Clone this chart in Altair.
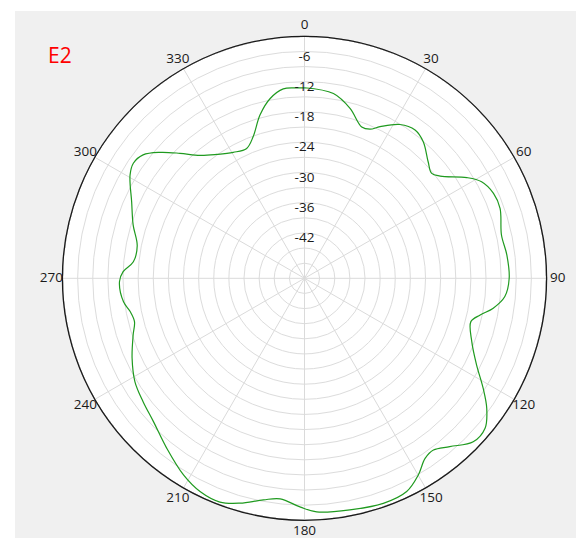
import math
import altair as alt
import pandas as pd

# ---- data ----
angles_deg = [0, 8.9, 15, 20.7, 23.7, 26.5, 31.8, 36.7, 41, 46.7, 50.5, 53, 58.2, 61.4, 65.8, 70.3,
              77.6, 83.4, 90, 95.2, 99, 101.8, 104.6, 110.8, 116.7, 121.6, 125.5, 129.7, 134.1,
              139.2, 143.1, 146.2, 150, 154.4, 160.7, 168.9, 177, 181, 186.3, 190.5, 196, 200.7,
              206.1, 211.6, 219, 226.5, 232.6, 238.6, 245.1, 251.7, 255.7, 259.2, 262.6, 269,
              272.1, 275.5, 281, 287.3, 293.9, 300.6, 303.9, 307.4, 311.1, 315.1, 319.6, 324.7,
              330.5, 336, 340.1, 344.8, 349.2, 353.6, 357.5, 360]
gain_db = [-10.2, -10.9, -13.1, -15.9, -15.7, -14.4, -12.1, -11.3, -12.1, -14.3, -15.3, -14.3,
           -10.1, -8.0, -6.9, -6.8, -8.0, -7.6, -7.4, -8.1, -10.1, -12.4, -13.9, -12.5, -9.8,
           -6.4, -3.6, -1.45, -1.4, -3.9, -5.4, -5.0, -2.9, -1.1, -0.7, -1.2, -1.6, -2.6, -4.0,
           -3.3, -1.6, -0.55, -0.9, -2.2, -4.6, -6.7, -7.7, -8.6, -10.3, -12.2, -13.2, -12.8,
           -11.8, -11.3, -12.0, -13.9, -14.2, -12.4, -10.5, -7.8, -7.1, -7.7, -10.0, -13.0,
           -16.0, -17.9, -19.3, -19.8, -18.1, -14.4, -11.7, -10.2, -10.2, -10.2]
assert len(angles_deg) == len(gain_db)

ring_values = list(range(-45, 0, 3))          # gridline rings every 3 dB
radial_labels = [-6, -12, -18, -24, -30, -36, -42]
spoke_angles = list(range(0, 360, 30))
R_MIN, R_MAX = -48, 0
title_text = "E2"

# ---- layout ----
W, H = 568, 530
CX, CY, R = 296.5, 270.3, 242
LABEL_R = 1.046

xs = alt.Scale(domain=[-1, 1], range=[CX - R, CX + R])
ys = alt.Scale(domain=[-1, 1], range=[CY + R, CY - R])
rs = alt.Scale(type="linear", domain=[R_MIN, R_MAX], range=[0, R], zero=False)
FONT = "Open Sans"

one = pd.DataFrame({"k": [0]})

bg = alt.Chart(one).mark_rect(color="#f0f0f0").encode(
    x=alt.value(7), x2=alt.value(569), y=alt.value(3), y2=alt.value(530))

# white plot disc (circle symbol: size = diameter^2)
disc = alt.Chart(one).transform_calculate(x0="0", y0="0").mark_point(
    shape="circle", filled=True, fill="#ffffff", fillOpacity=1, opacity=1,
    strokeWidth=0, size=(2 * R) ** 2
).encode(x=alt.X("x0:Q", scale=xs, axis=None), y=alt.Y("y0:Q", scale=ys, axis=None))

rings = alt.Chart(pd.DataFrame({"v": ring_values})).mark_arc(
    theta=0, theta2=2 * math.pi, filled=False, stroke="#dcdcdc", strokeWidth=1
).encode(x=alt.value(CX), y=alt.value(CY),
         radius=alt.Radius("v:Q", scale=rs, stack=False))

outer = alt.Chart(pd.DataFrame({"v": [R_MAX]})).mark_arc(
    theta=0, theta2=2 * math.pi, filled=False, stroke="#1a1a1a", strokeWidth=1.3
).encode(x=alt.value(CX), y=alt.value(CY),
         radius=alt.Radius("v:Q", scale=rs, stack=False))

spokes = alt.Chart(pd.DataFrame({"a": spoke_angles})).transform_calculate(
    x0="0", y0="0",
    x1="sin(datum.a*PI/180)", y1="cos(datum.a*PI/180)"
).mark_rule(color="#dadada", strokeWidth=1).encode(
    x=alt.X("x0:Q", scale=xs, axis=None), y=alt.Y("y0:Q", scale=ys, axis=None),
    x2="x1:Q", y2="y1:Q")

line = alt.Chart(pd.DataFrame({"ang": angles_deg, "db": gain_db,
                               "i": list(range(len(gain_db)))})).transform_calculate(
    r=f"(datum.db - ({R_MIN}))/({R_MAX}-({R_MIN}))",
    x="datum.r*sin(datum.ang*PI/180)",
    y="datum.r*cos(datum.ang*PI/180)"
).mark_line(color="#1f9a1f", strokeWidth=1.2, interpolate="catmull-rom").encode(
    x=alt.X("x:Q", scale=xs, axis=None), y=alt.Y("y:Q", scale=ys, axis=None),
    order="i:Q")

rlab = alt.Chart(pd.DataFrame({"v": radial_labels})).transform_calculate(
    x="0", y=f"(datum.v - ({R_MIN}))/({R_MAX}-({R_MIN}))", t="''+datum.v"
).mark_text(font=FONT, fontSize=13.5, color="#1a1a1a", dy=-10, baseline="middle").encode(
    x=alt.X("x:Q", scale=xs, axis=None), y=alt.Y("y:Q", scale=ys, axis=None), text="t:N")

alab = alt.Chart(pd.DataFrame({"a": spoke_angles})).transform_calculate(
    x=f"{LABEL_R}*sin(datum.a*PI/180)", y=f"{LABEL_R}*cos(datum.a*PI/180)", t="''+datum.a"
).mark_text(font=FONT, fontSize=13.5, color="#1a1a1a", baseline="middle").encode(
    x=alt.X("x:Q", scale=xs, axis=None), y=alt.Y("y:Q", scale=ys, axis=None), text="t:N")

title = alt.Chart(one).mark_text(
    text=title_text, font=FONT, fontSize=21, color="#ff0000", align="left",
    baseline="alphabetic"
).encode(x=alt.value(40), y=alt.value(55))

chart = alt.layer(bg, disc, rings, spokes, outer, line, rlab, alab, title).resolve_scale(
    x="shared", y="shared"
).properties(
    width=W, height=H, padding=0, autosize="none", background="white"
).configure_view(strokeWidth=0)

chart.save("out.html", embed_options={"renderer": "svg", "actions": False})
